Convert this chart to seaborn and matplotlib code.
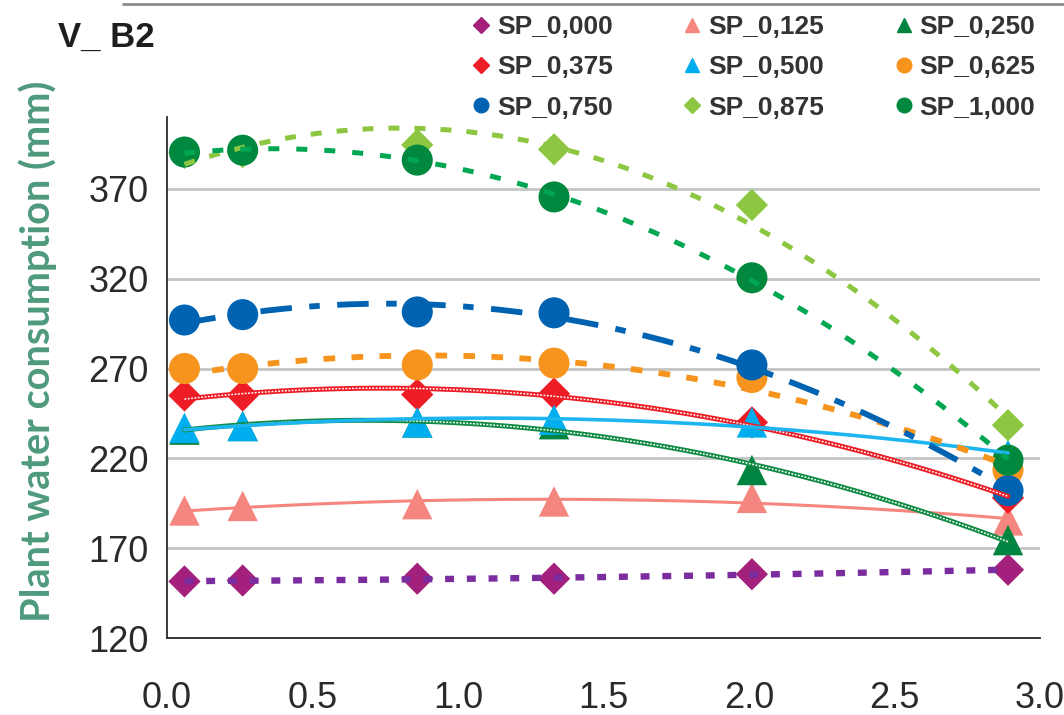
import numpy as np
import pandas as pd
import matplotlib
matplotlib.use("Agg")
import matplotlib.pyplot as plt
from matplotlib.lines import Line2D
import seaborn as sns

# Distance values (x) shared by all series
distance = [0.06, 0.26, 0.86, 1.33, 2.01, 2.89]

# Plant water consumption (mm) for each SP level
sp_0000 = [151.5, 152.0, 153.0, 153.0, 155.5, 158.0]
sp_0125 = [191.0, 193.5, 194.5, 196.0, 198.0, 185.5]
sp_0250 = [236.0, 238.0, 240.0, 239.0, 213.5, 174.5]
sp_0375 = [255.0, 255.0, 255.5, 256.0, 240.0, 198.0]
sp_0500 = [237.0, 238.0, 240.0, 241.5, 240.0, 222.0]
sp_0625 = [270.0, 270.0, 272.0, 273.0, 265.0, 213.5]
sp_0750 = [297.0, 300.0, 301.5, 301.0, 272.0, 202.0]
sp_0875 = [390.0, 390.5, 394.5, 392.0, 361.0, 238.5]
sp_1000 = [390.5, 391.5, 386.0, 365.5, 320.5, 219.0]

labels = ["SP_0,000", "SP_0,125", "SP_0,250", "SP_0,375", "SP_0,500",
          "SP_0,625", "SP_0,750", "SP_0,875", "SP_1,000"]
y_ticks = [120, 170, 220, 270, 320, 370]
x_ticks = [0.0, 0.5, 1.0, 1.5, 2.0, 2.5, 3.0]

series = [sp_0000, sp_0125, sp_0250, sp_0375, sp_0500,
          sp_0625, sp_0750, sp_0875, sp_1000]

# style per series: marker, marker colour, marker size, line colour, line style, width, inner white dots
styles = [
    ("D", "#A3217C", 270, "#7B2C9E", (0, (1.4, 2.0)), 4.6, False),
    ("^", "#F4867F", 480, "#F4867F", "-", 2.2, False),
    ("^", "#00843F", 480, "#0E8A43", "-", 3.6, True),
    ("D", "#EE1C25", 270, "#EE1C25", "-", 3.6, True),
    ("^", "#00AEEF", 480, "#1CB5F0", "-", 2.6, False),
    ("o", "#F7941D", 500, "#F7941D", (0, (2.0, 2.8)), 4.2, False),
    ("o", "#0063B2", 500, "#0063B2", (0, (5.4, 3.0, 1.8, 3.0)), 4.2, False),
    ("D", "#8DC640", 270, "#8DC640", (0, (2.2, 3.0)), 3.6, False),
    ("o", "#00883E", 500, "#00A651", (0, (2.2, 3.4)), 3.6, False),
]

sns.set_theme(style="white")
plt.rcParams["font.family"] = ["Liberation Sans", "DejaVu Sans"]

fig = plt.figure(figsize=(10.64, 7.15), dpi=100)
ax = fig.add_axes([167 / 1064, 1 - 638 / 715, 873 / 1064, 521 / 715])

# markers first
for i, (vals, st) in enumerate(zip(series, styles)):
    mk, mc, ms, lc, ls, lw, inner = st
    df = pd.DataFrame({"x": distance, "y": vals})
    sns.scatterplot(data=df, x="x", y="y", marker=mk, color=mc, s=ms,
                    edgecolor="none", linewidth=0, ax=ax, zorder=3 + i * 0.01,
                    legend=False)

# polynomial trendlines on top of markers
for i, (vals, st) in enumerate(zip(series, styles)):
    mk, mc, ms, lc, ls, lw, inner = st
    coef = np.polyfit(distance, vals, 2)
    xs = np.linspace(distance[0], distance[-1], 300)
    trend = pd.DataFrame({"x": xs, "y": np.polyval(coef, xs)})
    sns.lineplot(data=trend, x="x", y="y", color=lc, linewidth=lw,
                 linestyle=ls, ax=ax, zorder=5 + i * 0.01, legend=False)
    if inner:
        sns.lineplot(data=trend, x="x", y="y", color="white", linewidth=1.1,
                     linestyle=(0, (1.2, 1.0)), ax=ax, zorder=5.005 + i * 0.01,
                     legend=False)

ax.set_xlim(0, 3.0)
ax.set_ylim(120, 410)
ax.set_xticks(x_ticks)
ax.set_xticklabels([f"{t:.1f}" for t in x_ticks])
ax.set_yticks(y_ticks)
ax.set_yticklabels([str(t) for t in y_ticks])
ax.yaxis.grid(True, color="#C4C4C4", linewidth=2.0)
ax.xaxis.grid(False)
ax.set_axisbelow(True)
for side in ("top", "right"):
    ax.spines[side].set_visible(False)
for side in ("left", "bottom"):
    ax.spines[side].set_color("#2A2A2A")
    ax.spines[side].set_linewidth(1.3)
ax.tick_params(axis="both", which="both", direction="out", colors="#2A2A2A",
               labelcolor="#2A2A2A", labelsize=26, width=1.2)
ax.tick_params(axis="y", length=7, pad=6)
ax.tick_params(axis="x", length=9, pad=22)
ax.set_xlabel("")
ax.set_ylabel("Plant water consumption (mm)", fontsize=28.5, fontweight="bold",
              color="#4E9A7C", family=["Lato", "DejaVu Sans"])
ax.yaxis.set_label_coords(-0.126, 0.55)

fig.text(58 / 1064, 1 - 47 / 715, "V_ B2", fontsize=25, fontweight="bold",
         color="#1E1E1E", ha="left", va="baseline")

# thin grey rule along the top of the figure
fig.add_artist(Line2D([123 / 1064, 1.0], [1 - 4 / 715, 1 - 4 / 715],
                      transform=fig.transFigure, color="#8A8A8A", linewidth=2.0))

# legend filled row by row (three per row)
order = [0, 3, 6, 1, 4, 7, 2, 5, 8]
handles = [Line2D([], [], linestyle="none", marker=styles[k][0], color=styles[k][1],
                  markersize=10.5 if styles[k][0] != "D" else 8.5) for k in order]
leg = fig.legend(handles, [labels[k] for k in order], ncol=3, loc="upper left",
                 bbox_to_anchor=(472 / 1064, 1 - 15 / 715), frameon=False,
                 prop={"family": ["Liberation Sans", "DejaVu Sans"],
                       "weight": "bold", "size": 19},
                 handlelength=0.7, handletextpad=0.26, columnspacing=2.65,
                 labelspacing=0.62, borderpad=0.0, borderaxespad=0.0)
for t in leg.get_texts():
    t.set_color("#333333")

fig.savefig("out.png", dpi=100)
